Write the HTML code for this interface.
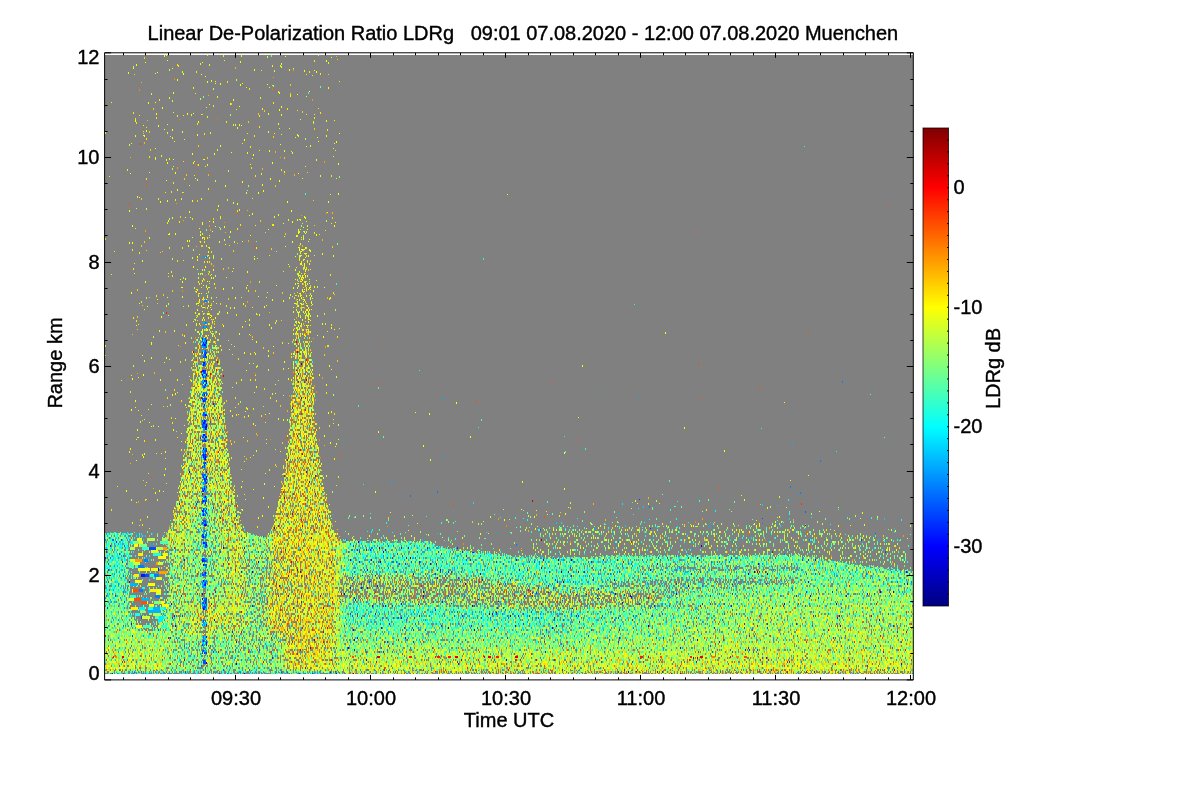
<!DOCTYPE html>
<html><head><meta charset="utf-8"><title>Linear De-Polarization Ratio LDRg</title>
<style>
html,body{margin:0;padding:0;background:#fff;}
body{width:1200px;height:800px;overflow:hidden;}
svg{display:block;position:absolute;left:0;top:0}
text{font-family:"Liberation Sans",sans-serif;font-size:20px;fill:#000;stroke:#000;stroke-width:.4px}
</style></head><body>
<svg width="1200" height="800" viewBox="0 0 1200 800">
<defs><linearGradient id="jet" x1="0" y1="0" x2="0" y2="1"><stop offset="0" stop-color="#800000"/><stop offset=".125" stop-color="#f00"/><stop offset=".375" stop-color="#ff0"/><stop offset=".625" stop-color="#0ff"/><stop offset=".875" stop-color="#00f"/><stop offset="1" stop-color="#000080"/></linearGradient></defs>
<rect x="105" y="55" width="808" height="619" fill="#808080"/>
<defs><filter id="fv" filterUnits="userSpaceOnUse" x="105" y="55" width="808" height="619" color-interpolation-filters="sRGB">
<feTurbulence type="fractalNoise" baseFrequency="0.77 0.41" numOctaves="2" seed="7"/>
<feColorMatrix type="matrix" values="1 0 0 0 0 1 0 0 0 0 1 0 0 0 0 0 0 0 0 1" result="tn"/>
<feFlood flood-color="#fff" x="105" y="55" width="808" height="1" result="ra"/>
<feOffset in="ra" dx="0" dy="0" x="105" y="55" width="808" height="2" result="rb"/>
<feTile in="rb" result="rows"/>
<feComposite in="tn" in2="rows" operator="in" result="even"/>
<feOffset in="even" dy="1" result="odd"/>
<feMerge result="nb"><feMergeNode in="odd"/><feMergeNode in="even"/></feMerge>
<feComponentTransfer in="nb" result="n"><feFuncR type="table" tableValues="0 0 0 0.065 0.16 0.255 0.35 0.388 0.425 0.463 0.5 0.538 0.575 0.613 0.65 0.745 0.84 0.935 1 1 1"/><feFuncG type="table" tableValues="0 0 0 0.065 0.16 0.255 0.35 0.388 0.425 0.463 0.5 0.538 0.575 0.613 0.65 0.745 0.84 0.935 1 1 1"/><feFuncB type="table" tableValues="0 0 0 0.065 0.16 0.255 0.35 0.388 0.425 0.463 0.5 0.538 0.575 0.613 0.65 0.745 0.84 0.935 1 1 1"/></feComponentTransfer>
<feGaussianBlur in="SourceGraphic" stdDeviation="1" result="s"/>
<feComposite in="s" in2="n" operator="arithmetic" k1="0" k2="1" k3="1" k4="-0.5"/>
<feComponentTransfer>
<feFuncR type="table" tableValues="0 0 0 0 .5 1 1 1 .5"/>
<feFuncG type="table" tableValues="0 0 .5 1 1 1 .5 0 0"/>
<feFuncB type="table" tableValues=".5 1 1 1 .5 0 0 0 0"/>
</feComponentTransfer>
</filter><filter id="fp" filterUnits="userSpaceOnUse" x="105" y="55" width="808" height="619" color-interpolation-filters="sRGB">
<feTurbulence type="fractalNoise" baseFrequency="0.71 0.39" numOctaves="2" seed="23"/>
<feColorMatrix type="matrix" values="0 1 0 0 0 0 1 0 0 0 0 1 0 0 0 0 0 0 0 1" result="tn"/>
<feFlood flood-color="#fff" x="105" y="55" width="808" height="1" result="ra"/>
<feOffset in="ra" dx="0" dy="0" x="105" y="55" width="808" height="2" result="rb"/>
<feTile in="rb" result="rows"/>
<feComposite in="tn" in2="rows" operator="in" result="even"/>
<feOffset in="even" dy="1" result="odd"/>
<feMerge result="nb"><feMergeNode in="odd"/><feMergeNode in="even"/></feMerge>
<feGaussianBlur in="SourceGraphic" stdDeviation="1" result="s"/>
<feComposite in="s" in2="nb" operator="arithmetic" k1="0" k2="1" k3="1" k4="-0.5"/>
<feComponentTransfer>
<feFuncR type="discrete" tableValues="0 1"/>
<feFuncG type="discrete" tableValues="0 1"/>
<feFuncB type="discrete" tableValues="0 1"/>
</feComponentTransfer>
</filter><filter id="b2" x="-30%" y="-10%" width="160%" height="120%"><feGaussianBlur stdDeviation="2"/></filter><filter id="b3" x="-30%" y="-10%" width="160%" height="120%"><feGaussianBlur stdDeviation="3"/></filter><filter id="b5" x="-30%" y="-10%" width="160%" height="120%"><feGaussianBlur stdDeviation="5"/></filter><filter id="b8" x="-30%" y="-30%" width="160%" height="160%"><feGaussianBlur stdDeviation="8"/></filter><linearGradient id="pg1" gradientUnits="userSpaceOnUse" x1="0" y1="200" x2="0" y2="560"><stop offset="0.000" stop-color="#000000"/><stop offset="0.264" stop-color="#000000"/><stop offset="0.347" stop-color="#5c5c5c"/><stop offset="0.417" stop-color="#797979"/><stop offset="0.514" stop-color="#8e8e8e"/><stop offset="1.000" stop-color="#979797"/></linearGradient><linearGradient id="pg2" gradientUnits="userSpaceOnUse" x1="0" y1="200" x2="0" y2="560"><stop offset="0.000" stop-color="#000000"/><stop offset="0.236" stop-color="#000000"/><stop offset="0.319" stop-color="#5c5c5c"/><stop offset="0.403" stop-color="#797979"/><stop offset="0.528" stop-color="#8e8e8e"/><stop offset="1.000" stop-color="#979797"/></linearGradient><linearGradient id="ph1" gradientUnits="userSpaceOnUse" x1="0" y1="200" x2="0" y2="560"><stop offset="0.000" stop-color="#000000"/><stop offset="0.306" stop-color="#000000"/><stop offset="0.389" stop-color="#5c5c5c"/><stop offset="0.500" stop-color="#707070"/><stop offset="1.000" stop-color="#707070"/></linearGradient><linearGradient id="ph2" gradientUnits="userSpaceOnUse" x1="0" y1="200" x2="0" y2="560"><stop offset="0.000" stop-color="#000000"/><stop offset="0.278" stop-color="#000000"/><stop offset="0.375" stop-color="#5c5c5c"/><stop offset="0.500" stop-color="#707070"/><stop offset="1.000" stop-color="#707070"/></linearGradient><linearGradient id="lg" gradientUnits="userSpaceOnUse" x1="0" y1="530" x2="0" y2="674">
<stop offset="0" stop-color="#6e6e6e"/><stop offset=".3" stop-color="#707070"/><stop offset=".55" stop-color="#7a7a7a"/><stop offset=".8" stop-color="#8a8a8a"/><stop offset="1" stop-color="#969696"/></linearGradient><linearGradient id="lgb" gradientUnits="userSpaceOnUse" x1="0" y1="530" x2="0" y2="674">
<stop offset="0" stop-color="#737373"/><stop offset=".3" stop-color="#747474"/><stop offset=".5" stop-color="#707070"/><stop offset=".62" stop-color="#737373"/><stop offset=".78" stop-color="#828282"/><stop offset=".9" stop-color="#909090"/><stop offset="1" stop-color="#969696"/></linearGradient><linearGradient id="lgc" gradientUnits="userSpaceOnUse" x1="0" y1="540" x2="0" y2="674">
<stop offset="0" stop-color="#787878"/><stop offset=".28" stop-color="#7c7c7c"/><stop offset=".5" stop-color="#878787"/><stop offset=".8" stop-color="#8f8f8f"/><stop offset="1" stop-color="#999999"/></linearGradient><linearGradient id="fade" gradientUnits="userSpaceOnUse" x1="560" y1="0" x2="760" y2="0"><stop offset="0" stop-color="#fff" stop-opacity="0"/><stop offset="1" stop-color="#fff"/></linearGradient>
<mask id="mfade" maskUnits="userSpaceOnUse" x="90" y="40" width="850" height="660"><rect x="90" y="40" width="850" height="660" fill="url(#fade)"/></mask></defs>
<mask id="pm" maskUnits="userSpaceOnUse" x="105" y="55" width="808" height="619"><g filter="url(#fp)"><rect x="95" y="45" width="828" height="639" fill="#000"/><path d="M530 522.696L550 523.565L570 523.667L590 523L610 522.333L630 521.944L650 521.833L670 521.722L690 521.611L710 521.5L730 521.389L750 521.278L770 521.167L790 521.056L810 522.8L830 526.4L850 530L870 532.54L890 535.079L910 537.619L910 576.619L890 574.079L870 571.54L850 569L830 565.4L810 561.8L790 560.056L770 560.167L750 560.278L730 560.389L710 560.5L690 560.611L670 560.722L650 560.833L630 560.944L610 561.333L590 562L570 562.667L550 562.565L530 561.696Z" fill="#636363" filter="url(#b3)"/><path d="M338 531L358 531.217L378 531.435L398 531.652L418 531.87L438 536.316L458 539.474L478 542.4L498 544.4L518 546.174L538 547.043L558 547.913L578 547.4L598 546.733L618 546.067L638 545.9L658 545.789L678 545.678L698 545.567L718 545.456L738 545.344L758 545.233L778 545.122L798 545.011L818 548.24L838 551.84L858 555.016L878 557.556L898 560.095L918 562L918 577L898 575.095L878 572.556L858 570.016L838 566.84L818 563.24L798 560.011L778 560.122L758 560.233L738 560.344L718 560.456L698 560.567L678 560.678L658 560.789L638 560.9L618 561.067L598 561.733L578 562.4L558 562.913L538 562.043L518 561.174L498 559.4L478 557.4L458 554.474L438 551.316L418 546.87L398 546.652L378 546.435L358 546.217L338 546Z" fill="#5c5c5c" filter="url(#b3)"/><path d="M198.3 219L196.3 260L194.8 294L191.8 330L188.8 382L183.8 435L177.3 487L170.3 520L165.3 532L158.3 541L158.3 560L254.3 560L254.3 541L247.3 532L242.3 520L235.3 487L228.8 435L223.8 382L220.8 330L217.8 294L216.3 260L214.3 219Z" fill="url(#ph1)" filter="url(#b2)"/><path d="M296.7 215L295.2 260L293.7 294L292.2 330L289.7 382L286.2 435L279.2 487L271.7 520L267.7 532L263.7 541L263.7 560L341.7 560L341.7 541L337.7 532L333.7 520L326.2 487L319.2 435L315.7 382L313.2 330L311.7 294L310.2 260L308.7 215Z" fill="url(#ph2)" filter="url(#b2)"/><path d="M201.3 219L199.3 260L197.8 294L194.8 330L191.8 382L186.8 435L180.3 487L173.3 520L168.3 532L161.3 541L161.3 560L251.3 560L251.3 541L244.3 532L239.3 520L232.3 487L225.8 435L220.8 382L217.8 330L214.8 294L213.3 260L211.3 219Z" fill="url(#pg1)" /><path d="M299.7 215L298.2 260L296.7 294L295.2 330L292.7 382L289.2 435L282.2 487L274.7 520L270.7 532L266.7 541L266.7 560L338.7 560L338.7 541L334.7 532L330.7 520L323.2 487L316.2 435L312.7 382L310.2 330L308.7 294L307.2 260L305.7 215Z" fill="url(#pg2)" /><path d="M105 532L170 532L250 533L262 536L337 538L338 541L430 542L436 546L474 552L514 556L560 558L620 556L800 555L850 564L913 572L925 572L925 690L95 690L95 532Z" fill="#acacac" /><path d="M338 575L460 575L560 588L640 588L700 583L760 584L760 590L700 590L640 606L560 611L460 606L338 602Z" fill="#808080" filter="url(#b3)"/><path d="M600 604L720 605L720 610L600 610Z" fill="#8f8f8f" filter="url(#b2)"/><path d="M172 538L337.5 540L337.5 668L172 668Z" fill="#9b9b9b" filter="url(#b2)"/><path d="M640 566L720 565L800 566L800 571L720 571L640 571Z" fill="#808080" /><path d="M610 581L700 577L800 578L800 584L700 584L610 588Z" fill="#808080" /><path d="M240 560L300 555L300 640L240 650Z" fill="#919191" filter="url(#b5)"/><path d="M131 530L166 530L170 560L167 600L160 628L140 630L130 610L128 570Z" fill="#595959" filter="url(#b3)"/><rect x="95" y="670.5" width="830" height="10" fill="#838383"/></g></mask>
<g mask="url(#pm)"><g filter="url(#fv)"><rect x="95" y="45" width="828" height="639" fill="#808080"/><rect x="95" y="500" width="250" height="190" fill="url(#lg)"/><rect x="338" y="500" width="590" height="190" fill="url(#lgb)"/><rect x="338" y="500" width="590" height="190" fill="url(#lgc)" mask="url(#mfade)"/><path d="M330 492.813L350 496.13L370 496.348L390 496.565L410 496.783L430 497L450 503.211L470 506.368L490 508.6L510 510.6L530 511.696L550 512.565L570 512.667L590 512L610 511.333L630 510.944L650 510.833L670 510.722L690 510.611L710 510.5L730 510.389L750 510.278L770 510.167L790 510.056L810 511.8L830 515.4L850 519L870 521.54L890 524.079L910 526.619L930 527L930 571L910 570.619L890 568.079L870 565.54L850 563L830 559.4L810 555.8L790 554.056L770 554.167L750 554.278L730 554.389L710 554.5L690 554.611L670 554.722L650 554.833L630 554.944L610 555.333L590 556L570 556.667L550 556.565L530 555.696L510 554.6L490 552.6L470 550.368L450 547.211L430 541L410 540.783L390 540.565L370 540.348L350 540.13L330 536.813Z" fill="#878787" /><path d="M338 576L460 576L560 589L660 589L660 605L560 610L460 605L338 601Z" fill="#8b8b8b" filter="url(#b3)"/><path d="M196 200L190 330L178 450L170 500L158 545L162 600L170 632L242 632L250 600L254 545L242 500L234 450L222 330L216 200Z" fill="#959595" filter="url(#b5)"/><path d="M292.5 200L288.5 340L280.5 450L272.5 500L262.5 535L264.5 620L272.5 650L278.5 680L326.5 680L332.5 650L340.5 620L342.5 535L332.5 500L324.5 450L316.5 340L312.5 200Z" fill="#9e9e9e" filter="url(#b5)"/><path d="M243 535L272 535L268 580L262 625L250 625L246 580Z" fill="#828282" filter="url(#b3)"/><path d="M168 640L282 636L286 685L168 685Z" fill="#808080" filter="url(#b5)"/><path d="M158 545L186 545L190 640L158 640Z" fill="#858585" filter="url(#b5)"/><path d="M296 420L310 420L320 540L320 680L288 680L288 540Z" fill="#9f9f9f" filter="url(#b3)"/><rect x="207.5" y="345" width="3" height="320" fill="#a1a1a1"/><path d="M205 470L222 540L225 600L185 600L188 540Z" fill="#808080" filter="url(#b5)"/><rect x="95" y="671.5" width="245" height="10" fill="#666666"/></g></g>
<g fill="none" stroke-width="1" shape-rendering="crispEdges" transform="translate(.5 0)"><path d="M164 55v2M241 55v2M240 61v2M200 63v2M281 63v2M209 64v2M272 66v1M281 66v2M293 68v1M254 69v2M289 69v2M314 70v1M128 72v2M155 73v1M207 81v2M220 83v2M217 96v2M169 97v2M148 102v2M262 108v2M268 113v2M191 114v2M281 114v2M183 115v1M300 119v1M326 120v2M334 120v1M313 121v2M278 123v2M167 124v1M239 124v2M143 125v1M237 127v2M182 131v2M268 131v2M210 132v2M274 133v1M297 134v2M135 135v2M143 135v1M131 143v1M220 145v2M310 145v2M306 146v1M284 150v2M247 152v2M292 152v2M155 157v2M166 159v2M204 159v1M207 164v2M298 173v1M320 175v2M109 176v1M262 184v2M189 185v1M177 189v2M182 192v1M246 192v2M330 194v1M139 197v1M201 198v2M160 201v2M328 201v2M233 202v2M278 214v2M274 216v2M304 216v2M172 217v2M297 219v2M132 225v2M255 225v1M298 229v2M200 231v2M212 231v1M299 231v2M304 231v2M284 236v1M149 237v2M301 237v1M303 237v2M303 238v2M309 239v1M200 241v2M219 241v2M308 241v1M300 243v2M188 245v2M285 246v1M169 247v2M309 249v2M208 251v2M304 253v1M322 253v2M213 255v2M300 255v2M305 257v1M254 258v2M197 259v2M221 259v1M304 259v1M207 261v2M309 263v2M288 264v1M296 267v1M305 269v2M299 271v2M299 275v1M307 275v2M198 277v2M211 277v2M303 277v2M305 277v1M295 279v1M309 279v1M316 280v1M145 281v2M209 281v1M298 283v1M203 285v1M208 287v1M209 287v1M232 287v2M246 287v2M309 287v2M310 287v1M197 289v2M302 289v2M313 290v2M267 292v1M199 293v1M201 293v1M290 294v2M295 295v1M300 295v2M182 296v2M211 297v2M289 297v2M202 299v1M272 299v2M303 299v1M283 300v2M297 301v2M197 303v1M294 303v1M300 303v1M301 303v2M306 303v1M211 304v2M307 305v2M210 307v1M234 307v2M293 307v1M308 307v2M197 309v2M309 309v2M311 309v1M202 311v1M293 311v2M199 313v2M298 313v2M306 313v2M259 314v2M210 315v1M298 315v1M308 315v2M310 315v2M317 315v2M196 317v1M202 319v2M213 319v1M249 320v1M193 321v1M212 321v2M296 321v2M299 322v2M196 323v2M186 324v2M249 324v2M136 325v1M196 325v1M301 325v2M306 325v1M308 325v1M296 327v2M307 327v1M299 328v2M302 329v2M308 329v2M159 330v2M174 330v2M198 331v2M202 331v2M212 331v1M199 333v2M202 333v2M239 333v2M293 333v2M208 335v1M212 335v2M200 338v2M252 339v1M151 343v2M198 343v2M288 343v1M215 345v1M216 345v1M220 345v2M234 346v1M216 349v1M212 350v1M268 350v2M203 352v2M254 352v1M151 357v2M306 357v1M169 359v1M144 360v2M284 361v2M164 362v1M249 363v1M329 365v2M246 370v1M255 374v2M336 376v2M138 377v1M218 378v2M288 378v2M177 379v2M241 379v2M198 384v2M305 386v1M199 389v2M177 392v1M220 403v2M151 404v1M218 405v1M135 407v1M246 407v2M247 408v2M148 409v1M138 410v1M230 410v1M245 411v1M331 411v2M189 413v2M224 413v2M265 414v1M232 415v2M304 419v2M149 422v1M333 423v1M305 424v2M338 424v2M184 425v1M255 425v1M158 426v1M197 427v1M301 428v1M199 429v2M307 430v2M338 439v1M181 441v1M336 443v2M130 448v2M226 448v2M256 450v2M165 451v2M144 453v2M161 453v1M253 455v1M143 456v2M244 461v1M165 468v2M219 473v1M265 473v1M326 475v2M146 482v1M218 482v2M264 483v2M253 489v1M163 491v1M227 491v1M324 492v1M190 494v2M741 495v1M207 498v2M635 500v2M648 503v2M568 507v1M319 510v2M536 510v1M702 511v1M390 512v1M862 512v2M232 514v1M147 516v2M534 516v2M877 516v2M290 518v2M483 521v1M775 521v2M132 522v2M277 522v2M417 523v1M864 524v2M666 525v2M617 526v1M535 528v2M488 533v1M462 537v2M907 538v1M533 543v2" stroke="#e6ff19"/><path d="M207 55v1M314 60v2M177 64v2M178 65v2M272 65v1M261 70v1M196 71v2M309 71v2M312 75v1M227 81v2M339 81v1M193 87v2M249 88v2M195 93v1M159 99v2M273 102v2M213 105v2M287 108v2M318 108v1M236 109v1M297 110v1M133 112v2M320 112v2M201 114v1M306 114v1M314 114v1M139 115v1M259 115v2M156 117v2M314 117v2M135 118v2M226 121v2M136 122v2M197 123v2M313 123v1M259 126v2M146 127v1M327 129v2M143 131v1M204 133v2M247 133v1M254 135v2M146 138v2M184 139v1M242 143v1M250 146v2M333 148v1M259 150v1M335 150v1M291 151v1M149 156v2M252 158v1M155 159v1M183 161v1M198 164v2M173 166v1M305 166v1M251 167v2M281 169v2M194 175v1M255 175v2M331 175v2M146 178v2M302 178v1M336 178v1M173 182v2M208 188v2M171 191v2M165 192v1M158 198v2M252 198v1M175 199v2M217 209v2M237 210v2M220 216v2M192 218v2M300 219v2M179 221v2M167 222v2M331 223v1M240 224v2M272 224v2M135 228v1M237 228v2M325 230v1M314 232v2M319 234v1M297 235v2M203 237v1M204 237v2M207 237v2M209 237v1M105 238v2M204 241v2M229 245v1M182 247v2M208 247v1M132 249v2M114 251v1M211 251v2M300 251v2M139 252v2M305 253v2M269 255v1M306 255v2M257 258v1M299 259v2M177 260v2M183 260v1M307 260v1M204 261v2M209 261v2M301 261v2M134 263v1M306 267v2M133 268v2M303 269v1M306 269v1M283 271v1M168 273v1M301 273v1M304 273v2M330 274v2M172 275v2M168 276v1M226 277v1M297 279v2M198 281v2M259 281v2M301 281v1M304 281v2M199 283v2M305 283v2M307 283v2M201 287v1M306 287v2M207 288v2M196 289v1M310 289v1M248 290v2M196 291v2M303 291v2M333 292v2M156 295v2M298 295v2M146 297v2M303 297v1M329 298v2M188 305v2M198 305v1M201 305v2M211 305v1M297 305v2M311 305v1M230 307v2M252 307v1M303 307v1M144 309v1M198 313v2M203 313v2M209 313v2M209 313v1M217 313v2M324 313v2M236 314v2M211 315v2M307 315v2M133 317v2M204 319v2M211 319v1M136 320v2M275 322v2M296 322v2M206 323v2M294 324v2M331 324v2M200 325v1M211 325v2M310 325v1M242 326v2M294 328v1M339 328v1M206 329v1M293 329v2M298 329v1M303 329v2M334 329v1M210 331v2M327 331v1M296 333v1M308 333v2M337 336v2M198 337v1M309 337v2M282 342v2M215 343v1M199 345v1M327 345v2M250 353v2M291 353v2M232 354v1M105 355v1M291 356v2M238 358v2M180 361v2M195 365v1M257 365v2M283 368v2M170 369v2M250 379v2M255 380v1M236 382v2M182 384v1M193 385v1M204 385v2M264 388v2M174 389v2M130 391v2M326 392v2M167 397v2M235 397v2M270 397v2M303 398v1M181 400v2M276 400v2M238 403v2M306 405v2M167 406v1M235 407v1M253 408v2M291 410v2M334 413v2M236 414v2M141 415v1M261 415v2M244 416v2M333 419v1M172 422v2M305 422v2M216 423v2M329 425v2M214 427v2M319 427v2M137 437v1M177 437v1M144 440v2M187 442v2M231 443v2M266 443v1M191 444v2M129 451v2M156 453v1M142 454v2M305 454v2M231 457v2M250 457v1M165 458v1M334 458v2M276 466v1M241 469v1M269 469v2M148 473v1M187 474v2M230 474v1M338 476v2M219 479v2M286 482v1M227 485v2M336 485v1M117 486v1M210 487v2M229 493v2M319 493v2M201 494v1M244 494v1M232 496v1M145 499v2M146 499v1M637 503v1M659 503v1M268 506v2M111 509v2M308 509v2M706 509v2M546 511v1M756 520v1M335 521v1M142 524v2M196 524v2M288 525v2M615 525v2M850 525v1M257 526v2M537 526v1M230 527v1M526 527v2M381 579v2M398 579v2M405 579v1M459 583v2M354 585v1M386 585v2M346 587v1M374 587v2M496 587v1M499 588v1M632 590v1M469 592v2M597 592v2M623 592v2M635 592v2M406 593v1M528 593v2M456 595v1M498 595v2M521 596v2M596 598v1M372 599v2M503 600v2M618 600v2M448 601v2M449 601v1" stroke="#ffe500"/><path d="M144 57v2M337 59v1M134 74v1M328 74v1M290 84v2M290 93v2M231 103v2M153 108v2M264 110v2M302 111v2M258 113v2M202 114v1M248 121v2M314 128v2M149 131v2M143 133v1M273 136v2M198 145v2M150 149v2M207 157v2M284 157v2M307 172v1M186 174v2M184 178v2M275 185v2M183 192v1M141 198v2M197 200v2M313 200v1M180 216v2M332 217v2M213 218v2M260 220v2M314 225v1M285 233v2M144 241v2M237 243v1M141 245v2M201 245v2M202 245v2M299 245v1M332 246v2M271 248v2M146 250v1M233 250v2M162 251v1M160 252v1M207 255v2M310 260v2M211 263v2M302 265v1M223 268v2M308 269v2M201 273v1M208 273v2M298 275v2M309 281v1M209 283v1M310 285v2M215 287v2M215 287v1M303 287v1M137 289v2M172 290v2M255 290v2M282 292v2M297 292v1M198 293v2M163 294v2M334 294v1M296 295v1M228 298v2M203 299v2M205 301v2M305 301v2M157 303v1M203 303v2M220 303v2M297 303v2M142 305v1M245 305v2M208 311v1M137 316v2M281 320v1M205 323v2M212 323v1M222 324v1M304 325v1M137 329v1M307 329v1M165 331v2M306 331v2M212 333v1M182 334v2M205 335v2M250 335v1M178 345v1M263 347v2M273 352v2M324 354v2M337 360v2M295 369v2M309 381v2M303 390v1M188 398v1M302 398v1M216 399v1M226 400v2M280 405v2M163 406v1M312 413v2M171 417v2M142 420v1M221 423v1M226 432v1M189 433v2M230 440v2M247 440v2M282 442v2M244 456v1M275 464v2M285 467v2M218 472v1M316 472v2M224 476v2M143 480v1M145 485v1M182 487v1M207 500v1M229 506v1M327 507v1M570 507v2M560 512v1M196 514v1M305 515v1M388 517v2M140 519v2M472 521v2M714 522v1M240 524v1M684 524v2M738 525v1M805 526v2M337 529v1M883 535v2" stroke="#fc0"/><path d="M336 56v1M235 67v2M141 82v1M208 95v1M147 120v1M144 142v2M275 151v2M130 157v1M262 168v2M208 174v2M294 174v2M247 210v1M332 212v2M183 220v1M225 232v1M322 239v2M248 240v2M302 245v2M196 246v1M228 267v2M305 273v1M204 279v2M327 297v2M302 299v1M211 303v2M296 307v1M269 312v1M257 314v1M196 315v1M132 334v1M252 336v2M204 366v2M154 372v2M290 403v2M287 410v2M256 433v2M257 435v1M234 441v2M324 445v1M132 454v1M246 458v2M130 463v1M305 470v1M227 471v2M299 475v1M153 488v1M305 491v2M648 497v2M593 503v2M309 508v1M536 514v2M605 519v2M793 519v2M206 529v1M528 530v2M358 575v2M411 575v2M474 578v2M492 579v1M340 583v2M366 583v2M395 583v1M476 585v2M541 585v1M356 587v2M535 588v2M571 588v2M562 590v1M604 592v2M388 593v2M477 593v2M375 597v2M576 602v1M571 606v2" stroke="#ffb200"/><path d="M223 55v2M224 60v1M328 62v2M274 70v2M182 71v2M320 73v2M306 74v1M236 79v2M211 80v2M213 88v2M278 91v2M151 93v2M306 96v1M260 97v2M200 98v2M206 107v1M177 115v2M207 116v2M233 124v2M235 124v2M167 132v2M298 135v2M295 137v1M129 144v2M161 155v2M333 156v1M169 158v2M205 166v1M127 169v2M149 172v1M261 173v2M197 179v2M215 180v2M137 196v2M181 198v2M227 199v2M136 208v1M146 208v2M239 209v2M190 217v1M288 219v2M299 219v1M306 221v1M307 225v2M300 229v1M298 231v2M202 233v2M192 237v1M204 239v1M224 239v2M301 239v1M234 241v2M206 245v2M299 247v2M306 247v2M299 255v2M301 255v1M192 257v2M299 257v2M172 258v2M142 260v2M304 267v2M202 269v2M310 269v1M171 271v2M202 273v2M297 273v2M298 273v2M111 274v1M210 275v1M215 275v2M213 277v2M301 277v2M302 277v1M305 281v2M295 283v2M302 283v2M206 285v2M305 285v2M194 287v2M206 287v1M297 287v2M195 291v1M304 291v1M299 293v1M198 295v2M207 295v2M301 295v1M292 296v1M216 297v1M266 297v1M310 298v2M312 298v1M297 299v1M299 299v2M208 301v2M303 301v1M311 301v1M168 303v2M196 303v2M216 303v1M166 305v2M210 305v1M226 305v2M298 305v2M183 306v1M207 307v2M296 309v2M297 311v2M299 311v2M256 313v2M304 313v1M168 315v1M306 315v1M308 317v2M194 319v1M195 319v2M294 319v1M309 319v1M276 320v2M214 321v1M208 323v2M138 324v1M295 325v1M298 325v2M299 327v2M297 329v2M201 331v2M153 336v2M201 339v2M311 341v1M196 347v2M207 347v2M253 363v1M268 369v2M215 370v2M131 375v1M255 379v1M121 380v1M272 393v2M214 402v1M224 402v2M186 407v1M193 407v2M206 412v2M278 418v2M283 419v2M140 421v2M311 421v1M265 422v1M222 433v1M138 437v1M308 440v1M223 460v2M164 475v1M315 484v1M237 495v2M779 496v2M204 497v2M131 499v2M157 499v2M245 499v1M570 502v2M786 507v1M838 507v1M240 512v2M547 514v1M412 515v1M559 515v2M855 515v1M239 516v2M490 516v2M860 518v1M446 519v2M203 521v1M822 523v2M243 526v2M668 526v2M696 526v1M149 528v1M224 529v1M408 530v1" stroke="#cf3"/><path d="M166 55v1M267 56v2M285 56v1M331 57v1M167 60v1M326 60v2M145 62v1M202 62v1M136 64v2M133 67v2M172 68v1M304 70v2M316 71v2M157 72v1M183 73v2M201 74v1M205 76v1M177 79v2M215 81v1M215 83v1M242 83v1M240 84v2M267 84v1M193 87v1M269 87v1M328 87v2M309 91v1M173 92v2M279 92v2M297 94v1M290 95v2M233 99v2M111 102v1M155 102v1M230 103v2M209 104v1M239 106v1M281 106v2M162 107v2M279 109v2M173 112v1M156 113v2M187 113v2M193 113v1M135 120v2M198 121v2M158 125v2M241 125v1M289 128v1M164 129v1M172 129v2M146 130v2M105 132v2M339 133v1M197 134v2M144 135v2M326 135v2M172 137v2M317 137v1M244 139v2M174 141v1M318 141v1M336 141v2M334 143v1M280 144v1M155 148v1M269 150v2M231 152v1M192 153v2M214 153v2M253 154v2M173 159v1M203 159v1M316 159v2M194 161v1M167 162v2M193 162v2M272 162v2M338 163v2M250 164v1M284 171v2M175 172v2M130 173v1M195 178v1M270 178v2M166 180v1M279 180v2M242 181v2M225 185v2M263 190v2M258 192v2M338 193v2M507 194v1M167 200v2M192 200v2M287 201v2M237 203v2M218 205v2M129 210v2M291 210v2M189 211v2M327 212v1M252 213v2M249 215v1M185 217v1M305 217v2M220 218v1M168 220v2M209 221v1M213 221v2M292 221v2M202 222v1M335 222v1M202 223v2M283 223v1M273 224v2M334 225v2M215 226v1M224 226v2M303 227v1M199 228v1M268 229v1M307 229v1M230 231v2M298 232v2M169 233v2M175 233v2M305 233v1M168 234v1M200 234v2M316 234v2M250 235v1M296 235v2M202 237v2M187 240v2M189 240v2M242 241v1M292 241v2M129 242v2M132 242v2M225 244v1M209 247v2M256 247v2M298 247v1M305 247v2M299 249v2M301 249v1M302 249v2M304 249v1M310 250v2M301 251v1M297 253v1M300 253v1M306 253v1M199 254v1M208 255v1M308 255v2M333 255v2M197 256v2M254 256v1M295 256v1M209 257v2M303 259v2M307 261v1M300 263v2M301 263v2M304 263v2M304 265v2M193 266v2M205 266v2M289 266v1M233 268v1M213 269v2M295 269v2M232 271v1M247 271v2M305 271v1M134 273v1M211 274v1M298 275v1M302 275v2M305 275v2M185 278v2M180 279v1M301 279v1M302 279v2M202 280v2M182 281v2M207 281v1M300 281v1M201 283v1M214 283v2M247 285v1M276 285v1M298 285v2M314 286v2M181 287v1M182 287v1M293 287v2M324 287v1M223 288v2M304 289v1M306 289v2M308 289v1M302 291v1M131 292v2M300 293v2M306 295v2M311 295v2M258 296v1M167 297v1M203 297v2M207 297v1M235 297v2M301 297v2M310 297v2M330 297v2M157 299v1M199 299v2M206 299v1M304 299v2M213 301v1M311 302v2M139 303v1M198 303v1M243 303v2M295 303v1M312 304v1M208 305v2M266 305v1M306 305v1M147 306v1M264 306v2M203 307v1M204 307v1M211 309v1M306 309v2M307 309v2M219 311v2M305 311v2M308 311v1M195 312v2M227 312v2M298 312v2M207 313v2M208 313v2M161 316v2M203 317v2M210 317v1M215 317v2M300 317v1M305 317v2M249 319v1M308 319v1M310 320v1M245 321v1M322 323v2M269 324v2M223 325v2M211 327v2M214 327v1M271 327v2M331 327v2M206 328v1M334 329v1M310 331v2M665 332v2M211 333v1M219 333v2M295 333v1M249 334v1M184 335v2M206 335v2M304 335v1M317 335v1M323 336v2M207 337v2M256 341v2M151 342v1M185 342v2M105 345v2M273 346v1M229 349v1M244 352v2M311 352v1M255 353v2M293 353v2M142 355v1M268 355v2M166 357v2M582 365v2M288 368v1M215 369v1M331 369v1M307 371v1M295 372v1M143 374v2M319 374v2M132 378v2M160 379v2M191 380v2M222 383v1M275 384v1M326 384v2M209 385v1M256 386v2M193 389v2M254 392v1M175 393v2M275 393v1M172 394v2M205 394v2M135 400v2M456 402v2M784 402v1M291 403v2M185 404v2M131 409v2M230 410v2M305 411v2M328 412v2M415 412v1M214 413v2M269 413v1M429 413v2M238 414v1M248 415v2M578 417v1M175 418v1M192 418v2M253 423v2M194 424v1M298 425v1M151 426v1M684 427v2M137 429v2M173 429v2M378 431v2M181 433v1M324 435v2M470 436v2M243 437v1M136 439v1M155 439v2M201 441v1M330 442v2M298 443v1M303 445v2M423 445v2M335 446v1M292 447v1M307 447v2M309 447v1M187 449v1M724 450v2M280 451v1M564 452v2M203 454v2M213 455v2M313 456v2M430 459v2M136 460v1M205 462v1M183 466v2M290 473v2M164 474v2M282 474v1M198 475v1M808 475v1M323 477v2M790 480v1M242 481v1M522 481v2M197 484v2M210 484v1M214 486v2M241 486v2M274 486v1M564 488v2M126 490v2M159 490v2M375 491v2M155 492v2M282 496v2M263 497v2M744 499v2M136 502v1M286 502v2M300 502v1M316 507v1M767 507v2M242 509v2M521 509v1M819 511v1M565 513v2M262 515v2M228 516v2M779 516v2M258 517v2M504 519v2M180 522v2M231 522v1M236 523v1M691 525v2M838 525v2M199 526v2M200 526v1M205 527v1M895 530v2M322 531v2M480 533v2M866 537v1M402 579v1M514 582v1M468 584v1M424 585v1M585 592v1M517 594v1M627 594v2M591 596v2M599 596v1M603 596v1M361 597v1M544 597v2M617 598v2M344 599v1M459 599v2M612 600v2M631 600v1M413 601v2" stroke="#ff0"/><path d="M318 55v1M280 65v2M133 66v2M169 69v2M272 85v1M246 87v1M172 100v2M279 128v1M281 134v1M170 136v1M305 138v2M217 149v2M228 170v2M326 220v2M302 223v1M219 227v1M306 231v2M209 235v1M303 235v2M229 236v2M193 249v2M314 255v1M213 257v2M303 267v2M197 269v1M204 269v2M209 271v2M200 273v2M300 275v2M299 277v2M203 278v2M297 283v1M309 283v1M317 286v2M208 291v2M206 293v1M294 293v1M310 293v2M309 295v1M241 297v1M294 297v2M141 301v2M199 301v2M202 307v1M302 307v1M301 309v2M335 309v2M204 313v1M218 313v2M309 313v2M305 321v1M297 327v2M306 329v2M197 331v2M328 345v2M185 359v2M133 365v2M256 366v2M278 380v1M232 387v1M333 394v2M283 395v1M170 404v2M144 419v1M266 439v1M196 442v2M316 444v2M275 449v1M332 491v2M656 500v2M770 506v2M631 508v1M241 509v1M503 509v1M731 511v1M528 515v2M404 516v2M855 516v1M777 517v1M509 519v1M448 521v2M817 521v2M478 523v2M139 525v1M910 525v2M771 526v2M560 527v2M604 527v2M622 527v1M525 529v2M891 529v2M303 534v2M428 534v2M442 537v1" stroke="#b3ff4c"/><path d="M174 78v2M139 89v2M179 119v1M197 164v2M224 222v1M182 290v2M180 346v1M255 373v2M316 391v2M270 439v1M307 485v2M232 520v1M695 521v2M506 525v2M479 577v2M512 583v2M453 587v2M543 589v2M616 590v1M444 591v2M588 592v2M556 593v2M566 596v2M376 597v2M566 604v2M582 606v1" stroke="#ff8000"/><path d="M339 176v2M337 243v2M276 251v1M297 253v2M183 277v2M306 281v1M296 303v2M231 344v1M165 389v2M263 406v1M176 431v1M320 493v2M708 499v2M681 506v2M523 510v1M614 511v2M355 516v2M530 516v2M849 518v2M790 521v2M590 522v2M793 522v1M481 523v2M516 527v1M457 531v1M479 537v2M485 538v1M510 548v1" stroke="#80ff80"/><path d="M272 88v2M217 117v2M236 212v2M164 448v1M196 469v2M252 519v1" stroke="#f60"/><path d="M273 85v2M230 114v2M172 168v2M248 185v2M169 218v2M301 225v2M220 228v2M303 249v2M205 257v1M221 258v1M307 262v1M198 273v2M298 281v1M306 285v1M204 299v1M303 303v2M301 307v2M325 323v2M191 337v2M228 340v1M240 401v2M153 425v2M166 483v1M662 494v1M674 506v1M584 511v2M811 513v2M349 515v2M363 515v2M617 521v2M531 523v2M775 525v2M791 525v2M570 527v1M830 529v1M420 531v2M514 542v2M491 543v2" stroke="#9f6"/><path d="M293 69v2M273 77v1M312 99v2M280 157v1M324 161v2M177 167v2M284 174v1M176 203v1M326 212v2M301 215v1M209 225v2M210 229v2M145 230v2M199 241v1M213 265v2M208 271v1M205 275v1M303 275v1M300 279v2M250 281v2M303 283v2M306 291v1M305 293v1M296 299v2M198 301v2M247 301v2M301 305v2M205 307v2M300 307v2M304 307v2M296 317v2M212 319v2M305 329v1M215 333v1M304 333v1M313 338v1M325 346v2M217 351v2M137 373v1M322 377v2M212 394v1M138 501v2M498 518v2M702 518v2M300 520v2M387 526v1M903 535v2" stroke="#f90"/><path d="M166 312v2M479 581v2M498 581v2M421 585v2M401 589v1M530 590v2M374 593v1M514 594v2M350 597v1M503 598v2M579 600v2M433 601v2M637 604v1M600 606v2M576 608v2" stroke="#ff1900"/><path d="M271 55v2M320 86v2M203 96v2M247 190v1M206 229v2M303 231v1M265 232v1M256 241v1M163 312v2M734 501v2M652 508v2M527 512v2M552 513v2M494 514v1M354 517v1M616 517v1M656 518v2M825 518v2M582 520v2M641 521v2M782 521v1M783 522v1M520 526v2M888 529v1M520 530v2M510 532v1M910 534v1M464 535v2M481 544v2" stroke="#6f9"/><path d="M151 55v1M146 185v2M129 203v2M886 205v1M697 230v1M254 245v2M809 332v2M380 346v1M698 363v2M129 376v1M378 383v2M551 383v1M758 388v2M700 398v1M476 401v2M264 418v2M252 426v1M577 439v1M147 440v1M341 453v2M151 477v1M718 487v2M759 503v2M453 504v2M180 516v2M544 516v2M478 579v2M349 581v1M404 585v2M493 587v2M504 590v2M573 592v2M492 593v2M520 594v1M366 597v2M426 597v2M360 599v2M402 601v2M509 601v2M524 601v2M556 601v2M628 604v1" stroke="#ff4c00"/><path d="M378 387v2M870 394v1M481 419v2M383 436v2M884 437v1M225 454v2M669 480v2M699 500v2M547 501v2M652 507v1M729 509v1M348 517v2M370 517v2M388 519v2M447 519v2M752 519v1M777 520v1M408 525v1M663 526v1M529 527v1M379 529v2M345 531v1M511 532v2M440 533v2" stroke="#4dffb3"/><path d="M321 74v1M140 143v2M208 395v2M206 454v2M801 503v2" stroke="#f30"/><path d="M804 146v1M483 258v2M336 283v2M634 304v1M419 370v1M358 405v2M478 427v1M761 428v1M564 436v1M585 448v2M565 451v2M836 451v1M363 484v1M677 501v1M632 502v1M670 509v2M789 511v2M426 516v1M500 517v1M871 517v2M523 518v1M577 518v1M676 518v2M527 519v2M386 522v2M830 524v1M619 526v2M561 527v2M367 531v1M392 532v1M484 538v1M893 540v2" stroke="#1affe5"/><path d="M308 92v2M305 193v2M149 297v1M760 504v1M838 509v1M370 513v1M789 513v2M515 517v2M847 517v2M877 518v2M455 521v1M670 521v2M793 521v1M441 522v2M453 522v2M642 527v1M866 535v1M875 535v2M448 537v2M455 538v2M450 541v2" stroke="#3fc"/><path d="M842 381v2M820 460v2M790 486v2M437 491v2M800 492v2M410 495v2M649 506v2M762 523v1M516 544v2" stroke="#0080ff"/><path d="M602 388v1M639 396v1M442 398v2M791 411v1M343 440v1M792 442v2M442 457v2M390 481v2M797 492v2M698 498v1M816 506v1M619 513v1M645 519v1M709 526v2M388 530v2" stroke="#00b3ff"/><path d="M788 499v2M675 506v1M638 508v1M715 510v2M633 514v1M811 517v1M649 519v1M901 519v2M805 524v1M657 526v2M565 528v1M372 529v2M572 529v2M371 531v2M860 535v1M884 540v2" stroke="#0ff"/><path d="M762 504v2M777 505v1M643 506v2M789 518v2M884 518v2M556 522v2M710 522v1M894 528v1M437 533v1" stroke="#0cf"/><path d="M805 511v2M875 533v1" stroke="#06f"/><path d="M473 502v2M622 503v2M561 522v2M780 525v2M677 526v2M894 531v2M486 532v1" stroke="#00e6ff"/><path d="M555 522v1M777 523v2M712 527v1M594 528v2M497 532v1M353 577v2M427 577v2M479 577v2M495 579v2M432 581v2M345 583v1M529 587v1M583 588v1M346 591v1M439 591v1M613 592v2M564 594v2M568 594v2M425 595v2M360 597v1M384 597v2M562 598v1M587 604v2M558 607v2M570 608v1" stroke="#09f"/><path d="M532 500v2" stroke="#c00"/><path d="M762 518v1M362 575v1M353 577v2M458 577v2M370 581v1M460 581v1M352 583v1M446 585v2M362 587v1M538 587v2M553 587v2M532 592v2M536 592v2M624 594v2M483 595v1M599 598v1M396 599v1M562 600v1M560 602v1M560 608v1" stroke="#004dff"/><path d="M639 499v1" stroke="#03f"/><path d="M437 577v2M482 579v2M499 584v1M377 585v2M350 587v2M361 587v2M367 587v2M598 588v2M395 589v1M459 589v1M394 591v1M548 592v1M576 594v1M586 594v1M423 595v2M524 595v2M490 596v1M631 596v2M597 598v1M355 599v2M478 599v1M442 601v2M498 601v1M622 602v2M451 603v1M572 608v1" stroke="#001aff"/></g>
<g shape-rendering="crispEdges"><rect x="202" y="338" width="1" height="2" fill="#002eff"/><rect x="203" y="338" width="1" height="2" fill="#00b3ff"/><rect x="204" y="338" width="1" height="2" fill="#00b3ff"/><rect x="205" y="338" width="1" height="2" fill="#004dff"/><rect x="202" y="340" width="1" height="2" fill="#006bff"/><rect x="203" y="340" width="1" height="2" fill="#00dbff"/><rect x="204" y="340" width="1" height="2" fill="#0094ff"/><rect x="205" y="340" width="1" height="2" fill="#0094ff"/><rect x="206" y="340" width="1" height="2" fill="#0005ff"/><rect x="202" y="342" width="1" height="2" fill="#00dbff"/><rect x="203" y="342" width="1" height="2" fill="#0005ff"/><rect x="204" y="342" width="1" height="2" fill="#0094ff"/><rect x="205" y="342" width="1" height="2" fill="#004dff"/><rect x="206" y="342" width="1" height="2" fill="#002eff"/><rect x="202" y="344" width="1" height="2" fill="#004dff"/><rect x="203" y="344" width="1" height="2" fill="#004dff"/><rect x="204" y="344" width="1" height="2" fill="#0005ff"/><rect x="205" y="344" width="1" height="2" fill="#002eff"/><rect x="206" y="344" width="1" height="2" fill="#00b3ff"/><rect x="202" y="346" width="1" height="2" fill="#00b3ff"/><rect x="203" y="346" width="1" height="2" fill="#0094ff"/><rect x="204" y="346" width="1" height="2" fill="#0094ff"/><rect x="205" y="346" width="1" height="2" fill="#006bff"/><rect x="206" y="346" width="1" height="2" fill="#006bff"/><rect x="203" y="348" width="1" height="2" fill="#808080"/><rect x="204" y="348" width="1" height="2" fill="#808080"/><rect x="205" y="348" width="1" height="2" fill="#808080"/><rect x="202" y="350" width="1" height="2" fill="#0094ff"/><rect x="203" y="350" width="1" height="2" fill="#00dbff"/><rect x="204" y="350" width="1" height="2" fill="#0094ff"/><rect x="205" y="350" width="1" height="2" fill="#004dff"/><rect x="202" y="352" width="1" height="2" fill="#004dff"/><rect x="204" y="352" width="1" height="2" fill="#004dff"/><rect x="205" y="352" width="1" height="2" fill="#004dff"/><rect x="206" y="352" width="1" height="2" fill="#004dff"/><rect x="203" y="354" width="1" height="2" fill="#00b3ff"/><rect x="204" y="354" width="1" height="2" fill="#004dff"/><rect x="205" y="354" width="1" height="2" fill="#0005ff"/><rect x="203" y="356" width="1" height="2" fill="#004dff"/><rect x="204" y="356" width="1" height="2" fill="#006bff"/><rect x="205" y="356" width="1" height="2" fill="#004dff"/><rect x="206" y="356" width="1" height="2" fill="#004dff"/><rect x="204" y="358" width="1" height="2" fill="#808080"/><rect x="204" y="360" width="1" height="2" fill="#808080"/><rect x="203" y="362" width="1" height="2" fill="#002eff"/><rect x="204" y="362" width="1" height="2" fill="#0005ff"/><rect x="205" y="362" width="1" height="2" fill="#0094ff"/><rect x="202" y="364" width="1" height="2" fill="#00b3ff"/><rect x="203" y="364" width="1" height="2" fill="#0005ff"/><rect x="204" y="364" width="1" height="2" fill="#004dff"/><rect x="205" y="364" width="1" height="2" fill="#006bff"/><rect x="203" y="366" width="1" height="2" fill="#808080"/><rect x="204" y="366" width="1" height="2" fill="#808080"/><rect x="204" y="368" width="1" height="2" fill="#808080"/><rect x="205" y="368" width="1" height="2" fill="#808080"/><rect x="202" y="370" width="1" height="2" fill="#002eff"/><rect x="203" y="370" width="1" height="2" fill="#0005ff"/><rect x="204" y="370" width="1" height="2" fill="#002eff"/><rect x="205" y="370" width="1" height="2" fill="#002eff"/><rect x="202" y="372" width="1" height="2" fill="#00dbff"/><rect x="203" y="372" width="1" height="2" fill="#004dff"/><rect x="204" y="372" width="1" height="2" fill="#002eff"/><rect x="205" y="372" width="1" height="2" fill="#004dff"/><rect x="202" y="374" width="1" height="2" fill="#0005ff"/><rect x="203" y="374" width="1" height="2" fill="#00dbff"/><rect x="205" y="374" width="1" height="2" fill="#00b3ff"/><rect x="206" y="374" width="1" height="2" fill="#0005ff"/><rect x="202" y="376" width="1" height="2" fill="#00b3ff"/><rect x="203" y="376" width="1" height="2" fill="#002eff"/><rect x="204" y="376" width="1" height="2" fill="#00b3ff"/><rect x="205" y="376" width="1" height="2" fill="#004dff"/><rect x="203" y="378" width="1" height="2" fill="#808080"/><rect x="205" y="378" width="1" height="2" fill="#808080"/><rect x="202" y="380" width="1" height="2" fill="#0094ff"/><rect x="203" y="380" width="1" height="2" fill="#00b3ff"/><rect x="204" y="380" width="1" height="2" fill="#0005ff"/><rect x="205" y="380" width="1" height="2" fill="#004dff"/><rect x="206" y="380" width="1" height="2" fill="#0005ff"/><rect x="202" y="382" width="1" height="2" fill="#00b3ff"/><rect x="203" y="382" width="1" height="2" fill="#004dff"/><rect x="205" y="382" width="1" height="2" fill="#00b3ff"/><rect x="206" y="382" width="1" height="2" fill="#0005ff"/><rect x="202" y="384" width="1" height="2" fill="#006bff"/><rect x="204" y="384" width="1" height="2" fill="#0094ff"/><rect x="205" y="384" width="1" height="2" fill="#0005ff"/><rect x="206" y="384" width="1" height="2" fill="#00dbff"/><rect x="202" y="386" width="1" height="2" fill="#00b3ff"/><rect x="203" y="386" width="1" height="2" fill="#006bff"/><rect x="204" y="386" width="1" height="2" fill="#002eff"/><rect x="205" y="386" width="1" height="2" fill="#0094ff"/><rect x="203" y="388" width="1" height="2" fill="#808080"/><rect x="203" y="392" width="1" height="2" fill="#006bff"/><rect x="204" y="392" width="1" height="2" fill="#006bff"/><rect x="205" y="392" width="1" height="2" fill="#0094ff"/><rect x="206" y="392" width="1" height="2" fill="#006bff"/><rect x="202" y="394" width="1" height="2" fill="#006bff"/><rect x="203" y="394" width="1" height="2" fill="#0094ff"/><rect x="204" y="394" width="1" height="2" fill="#0005ff"/><rect x="206" y="394" width="1" height="2" fill="#004dff"/><rect x="204" y="396" width="1" height="2" fill="#808080"/><rect x="205" y="396" width="1" height="2" fill="#808080"/><rect x="202" y="398" width="1" height="2" fill="#002eff"/><rect x="203" y="398" width="1" height="2" fill="#0094ff"/><rect x="204" y="398" width="1" height="2" fill="#004dff"/><rect x="205" y="398" width="1" height="2" fill="#004dff"/><rect x="206" y="398" width="1" height="2" fill="#004dff"/><rect x="202" y="400" width="1" height="2" fill="#00b3ff"/><rect x="203" y="400" width="1" height="2" fill="#0005ff"/><rect x="204" y="400" width="1" height="2" fill="#002eff"/><rect x="205" y="400" width="1" height="2" fill="#004dff"/><rect x="203" y="402" width="1" height="2" fill="#808080"/><rect x="205" y="402" width="1" height="2" fill="#808080"/><rect x="203" y="404" width="1" height="2" fill="#00dbff"/><rect x="204" y="404" width="1" height="2" fill="#002eff"/><rect x="203" y="406" width="1" height="2" fill="#004dff"/><rect x="204" y="406" width="1" height="2" fill="#0094ff"/><rect x="206" y="406" width="1" height="2" fill="#00dbff"/><rect x="203" y="408" width="1" height="2" fill="#808080"/><rect x="204" y="408" width="1" height="2" fill="#808080"/><rect x="205" y="408" width="1" height="2" fill="#808080"/><rect x="205" y="410" width="1" height="2" fill="#808080"/><rect x="203" y="412" width="1" height="2" fill="#004dff"/><rect x="204" y="412" width="1" height="2" fill="#006bff"/><rect x="205" y="412" width="1" height="2" fill="#00dbff"/><rect x="206" y="412" width="1" height="2" fill="#00dbff"/><rect x="202" y="414" width="1" height="2" fill="#00b3ff"/><rect x="203" y="414" width="1" height="2" fill="#004dff"/><rect x="204" y="414" width="1" height="2" fill="#004dff"/><rect x="205" y="414" width="1" height="2" fill="#0005ff"/><rect x="206" y="414" width="1" height="2" fill="#002eff"/><rect x="204" y="416" width="1" height="2" fill="#808080"/><rect x="205" y="416" width="1" height="2" fill="#808080"/><rect x="202" y="420" width="1" height="2" fill="#004dff"/><rect x="203" y="420" width="1" height="2" fill="#00b3ff"/><rect x="204" y="420" width="1" height="2" fill="#0005ff"/><rect x="205" y="420" width="1" height="2" fill="#002eff"/><rect x="206" y="420" width="1" height="2" fill="#00b3ff"/><rect x="202" y="422" width="1" height="2" fill="#0094ff"/><rect x="203" y="422" width="1" height="2" fill="#0005ff"/><rect x="204" y="422" width="1" height="2" fill="#0005ff"/><rect x="205" y="422" width="1" height="2" fill="#006bff"/><rect x="202" y="424" width="1" height="2" fill="#004dff"/><rect x="203" y="424" width="1" height="2" fill="#004dff"/><rect x="204" y="424" width="1" height="2" fill="#006bff"/><rect x="205" y="424" width="1" height="2" fill="#006bff"/><rect x="206" y="424" width="1" height="2" fill="#0005ff"/><rect x="202" y="426" width="1" height="2" fill="#004dff"/><rect x="203" y="426" width="1" height="2" fill="#004dff"/><rect x="204" y="426" width="1" height="2" fill="#006bff"/><rect x="205" y="426" width="1" height="2" fill="#0005ff"/><rect x="206" y="426" width="1" height="2" fill="#0005ff"/><rect x="203" y="428" width="1" height="2" fill="#00b3ff"/><rect x="204" y="428" width="1" height="2" fill="#0094ff"/><rect x="205" y="428" width="1" height="2" fill="#0005ff"/><rect x="206" y="428" width="1" height="2" fill="#004dff"/><rect x="203" y="430" width="1" height="2" fill="#808080"/><rect x="204" y="430" width="1" height="2" fill="#808080"/><rect x="202" y="434" width="1" height="2" fill="#00dbff"/><rect x="203" y="434" width="1" height="2" fill="#0005ff"/><rect x="204" y="434" width="1" height="2" fill="#0005ff"/><rect x="205" y="434" width="1" height="2" fill="#0094ff"/><rect x="202" y="436" width="1" height="2" fill="#004dff"/><rect x="203" y="436" width="1" height="2" fill="#004dff"/><rect x="204" y="436" width="1" height="2" fill="#00dbff"/><rect x="205" y="436" width="1" height="2" fill="#0005ff"/><rect x="206" y="436" width="1" height="2" fill="#002eff"/><rect x="203" y="438" width="1" height="2" fill="#00b3ff"/><rect x="204" y="438" width="1" height="2" fill="#002eff"/><rect x="206" y="438" width="1" height="2" fill="#00dbff"/><rect x="202" y="440" width="1" height="2" fill="#004dff"/><rect x="203" y="440" width="1" height="2" fill="#004dff"/><rect x="204" y="440" width="1" height="2" fill="#004dff"/><rect x="205" y="440" width="1" height="2" fill="#0005ff"/><rect x="206" y="440" width="1" height="2" fill="#0094ff"/><rect x="203" y="444" width="1" height="2" fill="#808080"/><rect x="204" y="444" width="1" height="2" fill="#808080"/><rect x="205" y="444" width="1" height="2" fill="#808080"/><rect x="203" y="446" width="1" height="2" fill="#808080"/><rect x="204" y="446" width="1" height="2" fill="#808080"/><rect x="205" y="446" width="1" height="2" fill="#808080"/><rect x="203" y="448" width="1" height="2" fill="#0005ff"/><rect x="204" y="448" width="1" height="2" fill="#00b3ff"/><rect x="205" y="448" width="1" height="2" fill="#006bff"/><rect x="206" y="448" width="1" height="2" fill="#004dff"/><rect x="202" y="450" width="1" height="2" fill="#0094ff"/><rect x="203" y="450" width="1" height="2" fill="#00b3ff"/><rect x="204" y="450" width="1" height="2" fill="#006bff"/><rect x="205" y="450" width="1" height="2" fill="#004dff"/><rect x="206" y="450" width="1" height="2" fill="#002eff"/><rect x="203" y="452" width="1" height="2" fill="#004dff"/><rect x="204" y="452" width="1" height="2" fill="#00b3ff"/><rect x="205" y="452" width="1" height="2" fill="#006bff"/><rect x="202" y="454" width="1" height="2" fill="#006bff"/><rect x="203" y="454" width="1" height="2" fill="#0005ff"/><rect x="204" y="454" width="1" height="2" fill="#004dff"/><rect x="205" y="454" width="1" height="2" fill="#002eff"/><rect x="202" y="456" width="1" height="2" fill="#00dbff"/><rect x="203" y="456" width="1" height="2" fill="#0005ff"/><rect x="204" y="456" width="1" height="2" fill="#004dff"/><rect x="205" y="456" width="1" height="2" fill="#0005ff"/><rect x="206" y="456" width="1" height="2" fill="#006bff"/><rect x="203" y="458" width="1" height="2" fill="#00b3ff"/><rect x="204" y="458" width="1" height="2" fill="#002eff"/><rect x="205" y="458" width="1" height="2" fill="#0005ff"/><rect x="204" y="460" width="1" height="2" fill="#808080"/><rect x="203" y="462" width="1" height="2" fill="#006bff"/><rect x="204" y="462" width="1" height="2" fill="#004dff"/><rect x="205" y="462" width="1" height="2" fill="#002eff"/><rect x="206" y="462" width="1" height="2" fill="#00dbff"/><rect x="204" y="464" width="1" height="2" fill="#002eff"/><rect x="202" y="466" width="1" height="2" fill="#004dff"/><rect x="203" y="466" width="1" height="2" fill="#0094ff"/><rect x="204" y="466" width="1" height="2" fill="#004dff"/><rect x="205" y="466" width="1" height="2" fill="#00dbff"/><rect x="204" y="468" width="1" height="2" fill="#808080"/><rect x="205" y="468" width="1" height="2" fill="#808080"/><rect x="205" y="470" width="1" height="2" fill="#808080"/><rect x="203" y="472" width="1" height="2" fill="#808080"/><rect x="205" y="472" width="1" height="2" fill="#808080"/><rect x="202" y="474" width="1" height="2" fill="#004dff"/><rect x="203" y="474" width="1" height="2" fill="#006bff"/><rect x="204" y="474" width="1" height="2" fill="#004dff"/><rect x="205" y="474" width="1" height="2" fill="#006bff"/><rect x="202" y="476" width="1" height="2" fill="#0094ff"/><rect x="203" y="476" width="1" height="2" fill="#0005ff"/><rect x="204" y="476" width="1" height="2" fill="#00dbff"/><rect x="205" y="476" width="1" height="2" fill="#00b3ff"/><rect x="206" y="476" width="1" height="2" fill="#0005ff"/><rect x="203" y="478" width="1" height="2" fill="#0094ff"/><rect x="204" y="478" width="1" height="2" fill="#0005ff"/><rect x="205" y="478" width="1" height="2" fill="#004dff"/><rect x="206" y="478" width="1" height="2" fill="#002eff"/><rect x="204" y="480" width="1" height="2" fill="#004dff"/><rect x="205" y="480" width="1" height="2" fill="#002eff"/><rect x="206" y="480" width="1" height="2" fill="#00b3ff"/><rect x="202" y="482" width="1" height="2" fill="#00dbff"/><rect x="203" y="482" width="1" height="2" fill="#0094ff"/><rect x="204" y="482" width="1" height="2" fill="#00b3ff"/><rect x="205" y="482" width="1" height="2" fill="#004dff"/><rect x="206" y="482" width="1" height="2" fill="#002eff"/><rect x="204" y="484" width="1" height="2" fill="#808080"/><rect x="205" y="484" width="1" height="2" fill="#808080"/><rect x="203" y="486" width="1" height="2" fill="#00dbff"/><rect x="204" y="486" width="1" height="2" fill="#004dff"/><rect x="205" y="486" width="1" height="2" fill="#00b3ff"/><rect x="206" y="486" width="1" height="2" fill="#004dff"/><rect x="202" y="488" width="1" height="2" fill="#004dff"/><rect x="203" y="488" width="1" height="2" fill="#0094ff"/><rect x="204" y="488" width="1" height="2" fill="#0005ff"/><rect x="205" y="488" width="1" height="2" fill="#0094ff"/><rect x="206" y="488" width="1" height="2" fill="#00b3ff"/><rect x="202" y="490" width="1" height="2" fill="#004dff"/><rect x="203" y="490" width="1" height="2" fill="#0005ff"/><rect x="204" y="490" width="1" height="2" fill="#00b3ff"/><rect x="205" y="490" width="1" height="2" fill="#006bff"/><rect x="206" y="490" width="1" height="2" fill="#00dbff"/><rect x="204" y="492" width="1" height="2" fill="#808080"/><rect x="205" y="492" width="1" height="2" fill="#808080"/><rect x="204" y="494" width="1" height="2" fill="#808080"/><rect x="205" y="494" width="1" height="2" fill="#808080"/><rect x="203" y="496" width="1" height="2" fill="#00b3ff"/><rect x="204" y="496" width="1" height="2" fill="#006bff"/><rect x="205" y="496" width="1" height="2" fill="#0005ff"/><rect x="206" y="496" width="1" height="2" fill="#00b3ff"/><rect x="202" y="498" width="1" height="2" fill="#0094ff"/><rect x="204" y="498" width="1" height="2" fill="#00b3ff"/><rect x="205" y="498" width="1" height="2" fill="#00b3ff"/><rect x="206" y="498" width="1" height="2" fill="#004dff"/><rect x="202" y="500" width="1" height="2" fill="#004dff"/><rect x="203" y="500" width="1" height="2" fill="#0005ff"/><rect x="204" y="500" width="1" height="2" fill="#004dff"/><rect x="205" y="500" width="1" height="2" fill="#004dff"/><rect x="206" y="500" width="1" height="2" fill="#004dff"/><rect x="202" y="502" width="1" height="2" fill="#004dff"/><rect x="205" y="502" width="1" height="2" fill="#0005ff"/><rect x="204" y="504" width="1" height="2" fill="#808080"/><rect x="205" y="504" width="1" height="2" fill="#808080"/><rect x="203" y="508" width="1" height="2" fill="#002eff"/><rect x="204" y="508" width="1" height="2" fill="#0094ff"/><rect x="205" y="508" width="1" height="2" fill="#00dbff"/><rect x="206" y="508" width="1" height="2" fill="#004dff"/><rect x="202" y="510" width="1" height="2" fill="#0005ff"/><rect x="203" y="510" width="1" height="2" fill="#002eff"/><rect x="204" y="510" width="1" height="2" fill="#00dbff"/><rect x="205" y="510" width="1" height="2" fill="#002eff"/><rect x="206" y="510" width="1" height="2" fill="#00dbff"/><rect x="202" y="512" width="1" height="2" fill="#00dbff"/><rect x="203" y="512" width="1" height="2" fill="#004dff"/><rect x="206" y="512" width="1" height="2" fill="#004dff"/><rect x="202" y="514" width="1" height="2" fill="#0094ff"/><rect x="203" y="514" width="1" height="2" fill="#0005ff"/><rect x="204" y="514" width="1" height="2" fill="#0094ff"/><rect x="205" y="514" width="1" height="2" fill="#006bff"/><rect x="203" y="518" width="1" height="2" fill="#808080"/><rect x="205" y="518" width="1" height="2" fill="#808080"/><rect x="203" y="520" width="1" height="2" fill="#004dff"/><rect x="204" y="520" width="1" height="2" fill="#004dff"/><rect x="205" y="520" width="1" height="2" fill="#004dff"/><rect x="206" y="520" width="1" height="2" fill="#00b3ff"/><rect x="202" y="522" width="1" height="2" fill="#004dff"/><rect x="203" y="522" width="1" height="2" fill="#006bff"/><rect x="204" y="522" width="1" height="2" fill="#0094ff"/><rect x="205" y="522" width="1" height="2" fill="#004dff"/><rect x="206" y="522" width="1" height="2" fill="#0094ff"/><rect x="203" y="524" width="1" height="2" fill="#00b3ff"/><rect x="204" y="524" width="1" height="2" fill="#0005ff"/><rect x="205" y="524" width="1" height="2" fill="#0005ff"/><rect x="206" y="524" width="1" height="2" fill="#002eff"/><rect x="204" y="526" width="1" height="2" fill="#808080"/><rect x="203" y="528" width="1" height="2" fill="#808080"/><rect x="204" y="528" width="1" height="2" fill="#808080"/><rect x="203" y="530" width="1" height="2" fill="#00b3ff"/><rect x="204" y="530" width="1" height="2" fill="#006bff"/><rect x="205" y="530" width="1" height="2" fill="#00b3ff"/><rect x="203" y="532" width="1" height="2" fill="#0094ff"/><rect x="204" y="532" width="1" height="2" fill="#00dbff"/><rect x="206" y="532" width="1" height="2" fill="#006bff"/><rect x="202" y="534" width="1" height="2" fill="#002eff"/><rect x="203" y="534" width="1" height="2" fill="#004dff"/><rect x="205" y="534" width="1" height="2" fill="#006bff"/><rect x="206" y="534" width="1" height="2" fill="#006bff"/><rect x="202" y="536" width="1" height="2" fill="#004dff"/><rect x="203" y="536" width="1" height="2" fill="#0005ff"/><rect x="204" y="536" width="1" height="2" fill="#0094ff"/><rect x="205" y="536" width="1" height="2" fill="#004dff"/><rect x="206" y="536" width="1" height="2" fill="#00dbff"/><rect x="203" y="538" width="1" height="2" fill="#808080"/><rect x="205" y="538" width="1" height="2" fill="#808080"/><rect x="203" y="540" width="1" height="2" fill="#808080"/><rect x="205" y="540" width="1" height="2" fill="#808080"/><rect x="202" y="542" width="1" height="2" fill="#00dbff"/><rect x="203" y="542" width="1" height="2" fill="#0005ff"/><rect x="204" y="542" width="1" height="2" fill="#002eff"/><rect x="205" y="542" width="1" height="2" fill="#004dff"/><rect x="206" y="542" width="1" height="2" fill="#004dff"/><rect x="203" y="544" width="1" height="2" fill="#00b3ff"/><rect x="204" y="544" width="1" height="2" fill="#00dbff"/><rect x="205" y="544" width="1" height="2" fill="#004dff"/><rect x="206" y="544" width="1" height="2" fill="#0005ff"/><rect x="202" y="546" width="1" height="2" fill="#00dbff"/><rect x="204" y="546" width="1" height="2" fill="#00b3ff"/><rect x="205" y="546" width="1" height="2" fill="#004dff"/><rect x="206" y="546" width="1" height="2" fill="#006bff"/><rect x="204" y="550" width="1" height="2" fill="#808080"/><rect x="205" y="550" width="1" height="2" fill="#808080"/><rect x="203" y="552" width="1" height="2" fill="#808080"/><rect x="205" y="552" width="1" height="2" fill="#808080"/><rect x="203" y="554" width="1" height="2" fill="#808080"/><rect x="204" y="554" width="1" height="2" fill="#808080"/><rect x="205" y="554" width="1" height="2" fill="#808080"/><rect x="205" y="556" width="1" height="2" fill="#808080"/><rect x="202" y="558" width="1" height="2" fill="#004dff"/><rect x="203" y="558" width="1" height="2" fill="#002eff"/><rect x="204" y="558" width="1" height="2" fill="#006bff"/><rect x="205" y="558" width="1" height="2" fill="#00b3ff"/><rect x="206" y="558" width="1" height="2" fill="#0094ff"/><rect x="202" y="560" width="1" height="2" fill="#0005ff"/><rect x="203" y="560" width="1" height="2" fill="#002eff"/><rect x="204" y="560" width="1" height="2" fill="#002eff"/><rect x="205" y="560" width="1" height="2" fill="#004dff"/><rect x="206" y="560" width="1" height="2" fill="#006bff"/><rect x="204" y="562" width="1" height="2" fill="#808080"/><rect x="203" y="564" width="1" height="2" fill="#0005ff"/><rect x="204" y="564" width="1" height="2" fill="#006bff"/><rect x="205" y="564" width="1" height="2" fill="#004dff"/><rect x="206" y="564" width="1" height="2" fill="#004dff"/><rect x="205" y="566" width="1" height="2" fill="#00b3ff"/><rect x="206" y="566" width="1" height="2" fill="#006bff"/><rect x="205" y="568" width="1" height="2" fill="#808080"/><rect x="203" y="570" width="1" height="2" fill="#808080"/><rect x="204" y="570" width="1" height="2" fill="#808080"/><rect x="205" y="570" width="1" height="2" fill="#808080"/><rect x="202" y="572" width="1" height="2" fill="#006bff"/><rect x="204" y="572" width="1" height="2" fill="#006bff"/><rect x="205" y="572" width="1" height="2" fill="#0005ff"/><rect x="206" y="572" width="1" height="2" fill="#00b3ff"/><rect x="202" y="574" width="1" height="2" fill="#004dff"/><rect x="203" y="574" width="1" height="2" fill="#004dff"/><rect x="204" y="574" width="1" height="2" fill="#006bff"/><rect x="205" y="574" width="1" height="2" fill="#004dff"/><rect x="203" y="576" width="1" height="2" fill="#808080"/><rect x="204" y="576" width="1" height="2" fill="#808080"/><rect x="205" y="576" width="1" height="2" fill="#808080"/><rect x="202" y="580" width="1" height="2" fill="#00dbff"/><rect x="203" y="580" width="1" height="2" fill="#0005ff"/><rect x="204" y="580" width="1" height="2" fill="#0094ff"/><rect x="205" y="580" width="1" height="2" fill="#0094ff"/><rect x="206" y="580" width="1" height="2" fill="#006bff"/><rect x="202" y="582" width="1" height="2" fill="#006bff"/><rect x="203" y="582" width="1" height="2" fill="#00dbff"/><rect x="204" y="582" width="1" height="2" fill="#006bff"/><rect x="205" y="582" width="1" height="2" fill="#002eff"/><rect x="206" y="582" width="1" height="2" fill="#00b3ff"/><rect x="202" y="584" width="1" height="2" fill="#00b3ff"/><rect x="203" y="584" width="1" height="2" fill="#0094ff"/><rect x="204" y="584" width="1" height="2" fill="#002eff"/><rect x="205" y="584" width="1" height="2" fill="#0005ff"/><rect x="202" y="586" width="1" height="2" fill="#0094ff"/><rect x="203" y="586" width="1" height="2" fill="#0094ff"/><rect x="204" y="586" width="1" height="2" fill="#00dbff"/><rect x="205" y="586" width="1" height="2" fill="#0094ff"/><rect x="203" y="588" width="1" height="2" fill="#808080"/><rect x="204" y="588" width="1" height="2" fill="#808080"/><rect x="205" y="588" width="1" height="2" fill="#808080"/><rect x="203" y="590" width="1" height="2" fill="#808080"/><rect x="204" y="590" width="1" height="2" fill="#808080"/><rect x="205" y="590" width="1" height="2" fill="#808080"/><rect x="203" y="592" width="1" height="2" fill="#808080"/><rect x="205" y="592" width="1" height="2" fill="#808080"/><rect x="203" y="594" width="1" height="2" fill="#808080"/><rect x="204" y="594" width="1" height="2" fill="#808080"/><rect x="203" y="596" width="1" height="2" fill="#808080"/><rect x="202" y="598" width="1" height="2" fill="#0005ff"/><rect x="204" y="598" width="1" height="2" fill="#006bff"/><rect x="205" y="598" width="1" height="2" fill="#006bff"/><rect x="206" y="598" width="1" height="2" fill="#002eff"/><rect x="203" y="600" width="1" height="2" fill="#0094ff"/><rect x="204" y="600" width="1" height="2" fill="#006bff"/><rect x="205" y="600" width="1" height="2" fill="#004dff"/><rect x="206" y="600" width="1" height="2" fill="#004dff"/><rect x="202" y="602" width="1" height="2" fill="#006bff"/><rect x="203" y="602" width="1" height="2" fill="#004dff"/><rect x="205" y="602" width="1" height="2" fill="#002eff"/><rect x="206" y="602" width="1" height="2" fill="#006bff"/><rect x="202" y="604" width="1" height="2" fill="#0094ff"/><rect x="203" y="604" width="1" height="2" fill="#00dbff"/><rect x="204" y="604" width="1" height="2" fill="#006bff"/><rect x="205" y="604" width="1" height="2" fill="#00b3ff"/><rect x="206" y="604" width="1" height="2" fill="#004dff"/><rect x="202" y="606" width="1" height="2" fill="#0094ff"/><rect x="203" y="606" width="1" height="2" fill="#004dff"/><rect x="204" y="606" width="1" height="2" fill="#002eff"/><rect x="205" y="606" width="1" height="2" fill="#004dff"/><rect x="206" y="606" width="1" height="2" fill="#00b3ff"/><rect x="203" y="608" width="1" height="2" fill="#0005ff"/><rect x="204" y="608" width="1" height="2" fill="#004dff"/><rect x="205" y="608" width="1" height="2" fill="#00b3ff"/><rect x="206" y="608" width="1" height="2" fill="#0094ff"/><rect x="203" y="610" width="1" height="2" fill="#808080"/><rect x="205" y="610" width="1" height="2" fill="#808080"/><rect x="203" y="612" width="1" height="2" fill="#808080"/><rect x="205" y="612" width="1" height="2" fill="#808080"/><rect x="203" y="614" width="1" height="2" fill="#808080"/><rect x="205" y="614" width="1" height="2" fill="#808080"/><rect x="204" y="616" width="1" height="2" fill="#808080"/><rect x="203" y="618" width="1" height="2" fill="#808080"/><rect x="204" y="618" width="1" height="2" fill="#808080"/><rect x="202" y="620" width="1" height="2" fill="#00b3ff"/><rect x="203" y="620" width="1" height="2" fill="#004dff"/><rect x="205" y="620" width="1" height="2" fill="#006bff"/><rect x="203" y="622" width="1" height="2" fill="#0094ff"/><rect x="204" y="622" width="1" height="2" fill="#00b3ff"/><rect x="205" y="622" width="1" height="2" fill="#00dbff"/><rect x="206" y="622" width="1" height="2" fill="#00b3ff"/><rect x="202" y="624" width="1" height="2" fill="#0094ff"/><rect x="203" y="624" width="1" height="2" fill="#00dbff"/><rect x="204" y="624" width="1" height="2" fill="#0094ff"/><rect x="205" y="624" width="1" height="2" fill="#00dbff"/><rect x="206" y="624" width="1" height="2" fill="#002eff"/><rect x="203" y="626" width="1" height="2" fill="#808080"/><rect x="205" y="626" width="1" height="2" fill="#808080"/><rect x="205" y="628" width="1" height="2" fill="#808080"/><rect x="203" y="630" width="1" height="2" fill="#808080"/><rect x="204" y="630" width="1" height="2" fill="#808080"/><rect x="205" y="630" width="1" height="2" fill="#808080"/><rect x="203" y="632" width="1" height="2" fill="#808080"/><rect x="205" y="632" width="1" height="2" fill="#808080"/><rect x="204" y="634" width="1" height="2" fill="#808080"/><rect x="205" y="634" width="1" height="2" fill="#808080"/><rect x="202" y="636" width="1" height="2" fill="#00dbff"/><rect x="203" y="636" width="1" height="2" fill="#006bff"/><rect x="204" y="636" width="1" height="2" fill="#00dbff"/><rect x="205" y="636" width="1" height="2" fill="#00b3ff"/><rect x="206" y="636" width="1" height="2" fill="#0005ff"/><rect x="203" y="638" width="1" height="2" fill="#0094ff"/><rect x="204" y="638" width="1" height="2" fill="#00b3ff"/><rect x="205" y="638" width="1" height="2" fill="#00b3ff"/><rect x="202" y="640" width="1" height="2" fill="#0094ff"/><rect x="203" y="640" width="1" height="2" fill="#002eff"/><rect x="204" y="640" width="1" height="2" fill="#0094ff"/><rect x="206" y="640" width="1" height="2" fill="#006bff"/><rect x="202" y="642" width="1" height="2" fill="#00dbff"/><rect x="203" y="642" width="1" height="2" fill="#00b3ff"/><rect x="205" y="642" width="1" height="2" fill="#00b3ff"/><rect x="206" y="642" width="1" height="2" fill="#0005ff"/><rect x="202" y="644" width="1" height="2" fill="#002eff"/><rect x="203" y="644" width="1" height="2" fill="#00b3ff"/><rect x="204" y="644" width="1" height="2" fill="#00b3ff"/><rect x="206" y="644" width="1" height="2" fill="#002eff"/><rect x="203" y="646" width="1" height="2" fill="#808080"/><rect x="203" y="648" width="1" height="2" fill="#808080"/><rect x="205" y="648" width="1" height="2" fill="#808080"/><rect x="202" y="650" width="1" height="2" fill="#006bff"/><rect x="203" y="650" width="1" height="2" fill="#004dff"/><rect x="204" y="650" width="1" height="2" fill="#00b3ff"/><rect x="205" y="650" width="1" height="2" fill="#00b3ff"/><rect x="206" y="650" width="1" height="2" fill="#00b3ff"/><rect x="202" y="652" width="1" height="2" fill="#004dff"/><rect x="204" y="652" width="1" height="2" fill="#002eff"/><rect x="205" y="652" width="1" height="2" fill="#006bff"/><rect x="206" y="652" width="1" height="2" fill="#002eff"/><rect x="205" y="654" width="1" height="2" fill="#808080"/><rect x="204" y="656" width="1" height="2" fill="#808080"/><rect x="203" y="658" width="1" height="2" fill="#808080"/><rect x="203" y="660" width="1" height="2" fill="#004dff"/><rect x="204" y="660" width="1" height="2" fill="#004dff"/><rect x="205" y="660" width="1" height="2" fill="#006bff"/><rect x="203" y="662" width="1" height="2" fill="#004dff"/><rect x="204" y="662" width="1" height="2" fill="#004dff"/><rect x="205" y="662" width="1" height="2" fill="#004dff"/><rect x="206" y="662" width="1" height="2" fill="#0005ff"/><rect x="203" y="664" width="1" height="2" fill="#808080"/><rect x="204" y="664" width="1" height="2" fill="#808080"/><rect x="203" y="256" width="1" height="2" fill="#009eff"/><rect x="204" y="256" width="1" height="2" fill="#009eff"/><rect x="206" y="256" width="1" height="2" fill="#0080ff"/><rect x="204" y="300" width="1" height="2" fill="#0080ff"/><rect x="205" y="300" width="1" height="2" fill="#0080ff"/><rect x="206" y="300" width="1" height="2" fill="#0080ff"/><rect x="203" y="322" width="1" height="2" fill="#00b3ff"/><rect x="204" y="322" width="1" height="2" fill="#009eff"/><rect x="205" y="322" width="1" height="2" fill="#0080ff"/><rect x="206" y="322" width="1" height="2" fill="#009eff"/><rect x="203" y="326" width="1" height="2" fill="#0080ff"/><rect x="204" y="326" width="1" height="2" fill="#009eff"/><rect x="205" y="326" width="1" height="2" fill="#00b3ff"/><rect x="206" y="326" width="1" height="2" fill="#0080ff"/></g>
<g shape-rendering="crispEdges"><rect x="149" y="604" width="5" height="3" fill="#faff05"/><rect x="152" y="547" width="6" height="3" fill="#0080ff"/><rect x="156" y="562" width="5" height="3" fill="#ff9e00"/><rect x="134" y="598" width="8" height="3" fill="#ff4c00"/><rect x="136" y="625" width="6" height="3" fill="#faff05"/><rect x="132" y="589" width="4" height="3" fill="#faff05"/><rect x="131" y="607" width="7" height="3" fill="#fff000"/><rect x="156" y="592" width="5" height="3" fill="#e5ff1a"/><rect x="141" y="616" width="8" height="3" fill="#004dff"/><rect x="147" y="538" width="8" height="3" fill="#0080ff"/><rect x="160" y="541" width="8" height="3" fill="#4dffb3"/><rect x="139" y="607" width="6" height="3" fill="#00f0ff"/><rect x="148" y="610" width="8" height="3" fill="#00b3ff"/><rect x="135" y="565" width="8" height="3" fill="#4dffb3"/><rect x="136" y="541" width="7" height="3" fill="#e5ff1a"/><rect x="148" y="547" width="4" height="3" fill="#e5ff1a"/><rect x="158" y="625" width="6" height="3" fill="#d1ff2e"/><rect x="158" y="556" width="8" height="3" fill="#faff05"/><rect x="135" y="589" width="6" height="3" fill="#e5ff1a"/><rect x="129" y="562" width="8" height="3" fill="#4dffb3"/><rect x="142" y="568" width="8" height="3" fill="#faff05"/><rect x="156" y="577" width="6" height="3" fill="#e5ff1a"/><rect x="158" y="562" width="5" height="3" fill="#d1ff2e"/><rect x="143" y="625" width="8" height="3" fill="#4dffb3"/><rect x="150" y="589" width="8" height="3" fill="#fff000"/><rect x="135" y="613" width="5" height="3" fill="#1affe5"/><rect x="148" y="607" width="8" height="3" fill="#00b3ff"/><rect x="138" y="589" width="5" height="3" fill="#0080ff"/><rect x="142" y="547" width="8" height="3" fill="#2effd1"/><rect x="161" y="616" width="6" height="3" fill="#4dffb3"/><rect x="161" y="547" width="6" height="3" fill="#ff9e00"/><rect x="138" y="565" width="5" height="3" fill="#e5ff1a"/><rect x="150" y="574" width="7" height="3" fill="#1affe5"/><rect x="162" y="604" width="7" height="3" fill="#faff05"/><rect x="144" y="559" width="4" height="3" fill="#0080ff"/><rect x="142" y="598" width="5" height="3" fill="#ff9e00"/><rect x="134" y="544" width="4" height="3" fill="#faff05"/><rect x="148" y="583" width="7" height="3" fill="#faff05"/><rect x="153" y="568" width="6" height="3" fill="#001aff"/><rect x="156" y="616" width="8" height="3" fill="#00f0ff"/><rect x="162" y="538" width="5" height="3" fill="#b3ff4c"/><rect x="130" y="541" width="8" height="3" fill="#00f0ff"/><rect x="159" y="607" width="7" height="3" fill="#00f0ff"/><rect x="155" y="595" width="5" height="3" fill="#0080ff"/><rect x="130" y="559" width="7" height="3" fill="#2effd1"/><rect x="160" y="601" width="4" height="3" fill="#faff05"/><rect x="148" y="547" width="5" height="3" fill="#80ff80"/><rect x="160" y="571" width="7" height="3" fill="#0080ff"/><rect x="133" y="589" width="6" height="3" fill="#ff4c00"/><rect x="143" y="574" width="6" height="3" fill="#004dff"/><rect x="138" y="553" width="5" height="3" fill="#fff000"/><rect x="141" y="574" width="4" height="3" fill="#001aff"/><rect x="133" y="541" width="6" height="3" fill="#80ff80"/><rect x="158" y="619" width="5" height="3" fill="#00f0ff"/><rect x="141" y="598" width="8" height="3" fill="#00b3ff"/><rect x="133" y="562" width="7" height="3" fill="#d1ff2e"/><rect x="142" y="616" width="8" height="3" fill="#d1ff2e"/><rect x="153" y="553" width="8" height="3" fill="#1affe5"/><rect x="130" y="583" width="7" height="3" fill="#00b3ff"/><rect x="151" y="568" width="4" height="3" fill="#fff000"/><rect x="129" y="598" width="5" height="3" fill="#e5ff1a"/><rect x="137" y="538" width="5" height="3" fill="#e5ff1a"/><rect x="130" y="547" width="5" height="3" fill="#b3ff4c"/><rect x="153" y="613" width="7" height="3" fill="#b3ff4c"/><rect x="138" y="568" width="5" height="3" fill="#faff05"/><rect x="155" y="547" width="8" height="3" fill="#b3ff4c"/><rect x="130" y="595" width="6" height="3" fill="#2effd1"/><rect x="129" y="565" width="5" height="3" fill="#4dffb3"/><rect x="134" y="559" width="8" height="3" fill="#ff9e00"/><rect x="161" y="625" width="6" height="3" fill="#2effd1"/><rect x="142" y="601" width="6" height="3" fill="#faff05"/><rect x="157" y="589" width="4" height="3" fill="#faff05"/><rect x="140" y="610" width="5" height="3" fill="#80ff80"/><rect x="154" y="601" width="7" height="3" fill="#80ff80"/><rect x="138" y="565" width="6" height="3" fill="#0080ff"/><rect x="139" y="544" width="5" height="3" fill="#fff000"/><rect x="155" y="610" width="7" height="3" fill="#b3ff4c"/><rect x="148" y="607" width="7" height="3" fill="#1affe5"/><rect x="134" y="574" width="5" height="3" fill="#fff000"/><rect x="154" y="574" width="5" height="3" fill="#0080ff"/><rect x="135" y="580" width="7" height="3" fill="#faff05"/><rect x="151" y="547" width="6" height="3" fill="#e5ff1a"/><rect x="159" y="571" width="8" height="3" fill="#ff9e00"/><rect x="141" y="601" width="6" height="3" fill="#ff4c00"/><rect x="153" y="610" width="8" height="3" fill="#00b3ff"/><rect x="149" y="547" width="7" height="3" fill="#004dff"/><rect x="163" y="553" width="5" height="3" fill="#e5ff1a"/><rect x="153" y="607" width="8" height="3" fill="#00b3ff"/><rect x="160" y="607" width="4" height="3" fill="#2effd1"/><rect x="130" y="559" width="5" height="3" fill="#d1ff2e"/><rect x="147" y="538" width="8" height="3" fill="#b3ff4c"/><rect x="140" y="544" width="7" height="3" fill="#80ff80"/><rect x="154" y="568" width="4" height="3" fill="#faff05"/><rect x="155" y="616" width="4" height="3" fill="#4dffb3"/><rect x="151" y="550" width="7" height="3" fill="#e5ff1a"/></g>
<g shape-rendering="crispEdges"><rect x="113" y="656" width="1" height="2" fill="#ff1a00"/><rect x="115" y="656" width="2" height="2" fill="#ff8000"/><rect x="122" y="656" width="2" height="2" fill="#e50000"/><rect x="352" y="656" width="2" height="2" fill="#ff4c00"/><rect x="377" y="656" width="3" height="2" fill="#e50000"/><rect x="409" y="656" width="3" height="2" fill="#ff1a00"/><rect x="435" y="656" width="1" height="2" fill="#ff1a00"/><rect x="437" y="656" width="3" height="2" fill="#ff1a00"/><rect x="443" y="656" width="2" height="2" fill="#ff8000"/><rect x="448" y="656" width="3" height="2" fill="#ff1a00"/><rect x="455" y="656" width="3" height="2" fill="#e50000"/><rect x="484" y="656" width="1" height="2" fill="#e50000"/><rect x="488" y="656" width="3" height="2" fill="#e50000"/><rect x="496" y="656" width="3" height="2" fill="#ff1a00"/><rect x="515" y="656" width="3" height="2" fill="#e50000"/><rect x="640" y="656" width="3" height="2" fill="#ff1a00"/><rect x="648" y="656" width="1" height="2" fill="#e50000"/><rect x="660" y="656" width="2" height="2" fill="#ff4c00"/><rect x="690" y="656" width="2" height="2" fill="#ff1a00"/><rect x="700" y="656" width="3" height="2" fill="#e50000"/><rect x="712" y="656" width="3" height="2" fill="#ff8000"/><rect x="730" y="656" width="1" height="2" fill="#e50000"/><rect x="736" y="656" width="3" height="2" fill="#ff8000"/><rect x="744" y="656" width="3" height="2" fill="#ff4c00"/><rect x="758" y="656" width="1" height="2" fill="#ff8000"/></g>

<path d="M104.6 52.8H913.3V679.9H104.6ZM104.6 679.90h6.5M913.3 679.90h-6.5M104.6 653.50h3M913.3 653.50h-3M104.6 627.50h3M913.3 627.50h-3M104.6 601.50h3M913.3 601.50h-3M104.6 575.50h6.5M913.3 575.50h-6.5M104.6 549.50h3M913.3 549.50h-3M104.6 523.50h3M913.3 523.50h-3M104.6 497.50h3M913.3 497.50h-3M104.6 471.50h6.5M913.3 471.50h-6.5M104.6 444.50h3M913.3 444.50h-3M104.6 418.50h3M913.3 418.50h-3M104.6 392.50h3M913.3 392.50h-3M104.6 366.50h6.5M913.3 366.50h-6.5M104.6 340.50h3M913.3 340.50h-3M104.6 314.50h3M913.3 314.50h-3M104.6 288.50h3M913.3 288.50h-3M104.6 262.50h6.5M913.3 262.50h-6.5M104.6 235.50h3M913.3 235.50h-3M104.6 209.50h3M913.3 209.50h-3M104.6 183.50h3M913.3 183.50h-3M104.6 157.50h6.5M913.3 157.50h-6.5M104.6 131.50h3M913.3 131.50h-3M104.6 105.50h3M913.3 105.50h-3M104.6 79.50h3M913.3 79.50h-3M104.6 52.80h6.5M913.3 52.80h-6.5M123.50 679.9v-2.5M123.50 52.8v2.5M145.50 679.9v-2.5M145.50 52.8v2.5M168.50 679.9v-2.5M168.50 52.8v2.5M190.50 679.9v-2.5M190.50 52.8v2.5M213.50 679.9v-2.5M213.50 52.8v2.5M235.50 679.9v-5M235.50 52.8v5M258.50 679.9v-2.5M258.50 52.8v2.5M280.50 679.9v-2.5M280.50 52.8v2.5M303.50 679.9v-2.5M303.50 52.8v2.5M325.50 679.9v-2.5M325.50 52.8v2.5M348.50 679.9v-2.5M348.50 52.8v2.5M370.50 679.9v-5M370.50 52.8v5M393.50 679.9v-2.5M393.50 52.8v2.5M415.50 679.9v-2.5M415.50 52.8v2.5M438.50 679.9v-2.5M438.50 52.8v2.5M460.50 679.9v-2.5M460.50 52.8v2.5M483.50 679.9v-2.5M483.50 52.8v2.5M505.50 679.9v-5M505.50 52.8v5M528.50 679.9v-2.5M528.50 52.8v2.5M550.50 679.9v-2.5M550.50 52.8v2.5M573.50 679.9v-2.5M573.50 52.8v2.5M595.50 679.9v-2.5M595.50 52.8v2.5M618.50 679.9v-2.5M618.50 52.8v2.5M640.50 679.9v-5M640.50 52.8v5M663.50 679.9v-2.5M663.50 52.8v2.5M685.50 679.9v-2.5M685.50 52.8v2.5M708.50 679.9v-2.5M708.50 52.8v2.5M730.50 679.9v-2.5M730.50 52.8v2.5M753.50 679.9v-2.5M753.50 52.8v2.5M775.50 679.9v-5M775.50 52.8v5M798.50 679.9v-2.5M798.50 52.8v2.5M820.50 679.9v-2.5M820.50 52.8v2.5M843.50 679.9v-2.5M843.50 52.8v2.5M865.50 679.9v-2.5M865.50 52.8v2.5M888.50 679.9v-2.5M888.50 52.8v2.5M910.50 679.9v-5M910.50 52.8v5" fill="none" stroke="#000" stroke-width="1"/>
<rect x="923" y="128" width="25.5" height="478" fill="url(#jet)"/><path d="M948.5 594.05h-1.5M948.5 582.10h-1.5M948.5 570.15h-1.5M948.5 558.20h-1.5M948.5 546.25h-1.5M948.5 534.30h-1.5M948.5 522.35h-1.5M948.5 510.40h-1.5M948.5 498.45h-1.5M948.5 486.50h-1.5M948.5 474.55h-1.5M948.5 462.60h-1.5M948.5 450.65h-1.5M948.5 438.70h-1.5M948.5 426.75h-1.5M948.5 414.80h-1.5M948.5 402.85h-1.5M948.5 390.90h-1.5M948.5 378.95h-1.5M948.5 367.00h-1.5M948.5 355.05h-1.5M948.5 343.10h-1.5M948.5 331.15h-1.5M948.5 319.20h-1.5M948.5 307.25h-1.5M948.5 295.30h-1.5M948.5 283.35h-1.5M948.5 271.40h-1.5M948.5 259.45h-1.5M948.5 247.50h-1.5M948.5 235.55h-1.5M948.5 223.60h-1.5M948.5 211.65h-1.5M948.5 199.70h-1.5M948.5 187.75h-1.5M948.5 175.80h-1.5M948.5 163.85h-1.5M948.5 151.90h-1.5M948.5 139.95h-1.5" stroke="#000" stroke-width="1" fill="none"/><rect x="923" y="128" width="25.5" height="478" fill="none" stroke="#000" stroke-opacity=".75" stroke-width="1"/>
<g><text x="147.6" y="40" textLength="750.6" lengthAdjust="spacing" xml:space="preserve">Linear De-Polarization Ratio LDRg   09:01 07.08.2020 - 12:00 07.08.2020 Muenchen</text><text x="99.5" y="680.4" text-anchor="end">0</text><text x="99.5" y="582.4" text-anchor="end">2</text><text x="99.5" y="477.9" text-anchor="end">4</text><text x="99.5" y="373.3" text-anchor="end">6</text><text x="99.5" y="268.8" text-anchor="end">8</text><text x="99.5" y="164.3" text-anchor="end">10</text><text x="99.5" y="64.3" text-anchor="end">12</text><text x="236.0" y="704.8" text-anchor="middle">09:30</text><text x="371.0" y="704.8" text-anchor="middle">10:00</text><text x="506.0" y="704.8" text-anchor="middle">10:30</text><text x="641.0" y="704.8" text-anchor="middle">11:00</text><text x="776.0" y="704.8" text-anchor="middle">11:30</text><text x="911.0" y="704.8" text-anchor="middle">12:00</text><text x="509" y="727" text-anchor="middle">Time UTC</text><text transform="translate(62 363) rotate(-90)" text-anchor="middle">Range km</text><text transform="translate(1000 368.5) rotate(-90)" text-anchor="middle">LDRg dB</text><text x="953.5" y="194.0">0</text><text x="953.5" y="313.7">-10</text><text x="953.5" y="433.4">-20</text><text x="953.5" y="553.1">-30</text></g>
</svg>
</body></html>
